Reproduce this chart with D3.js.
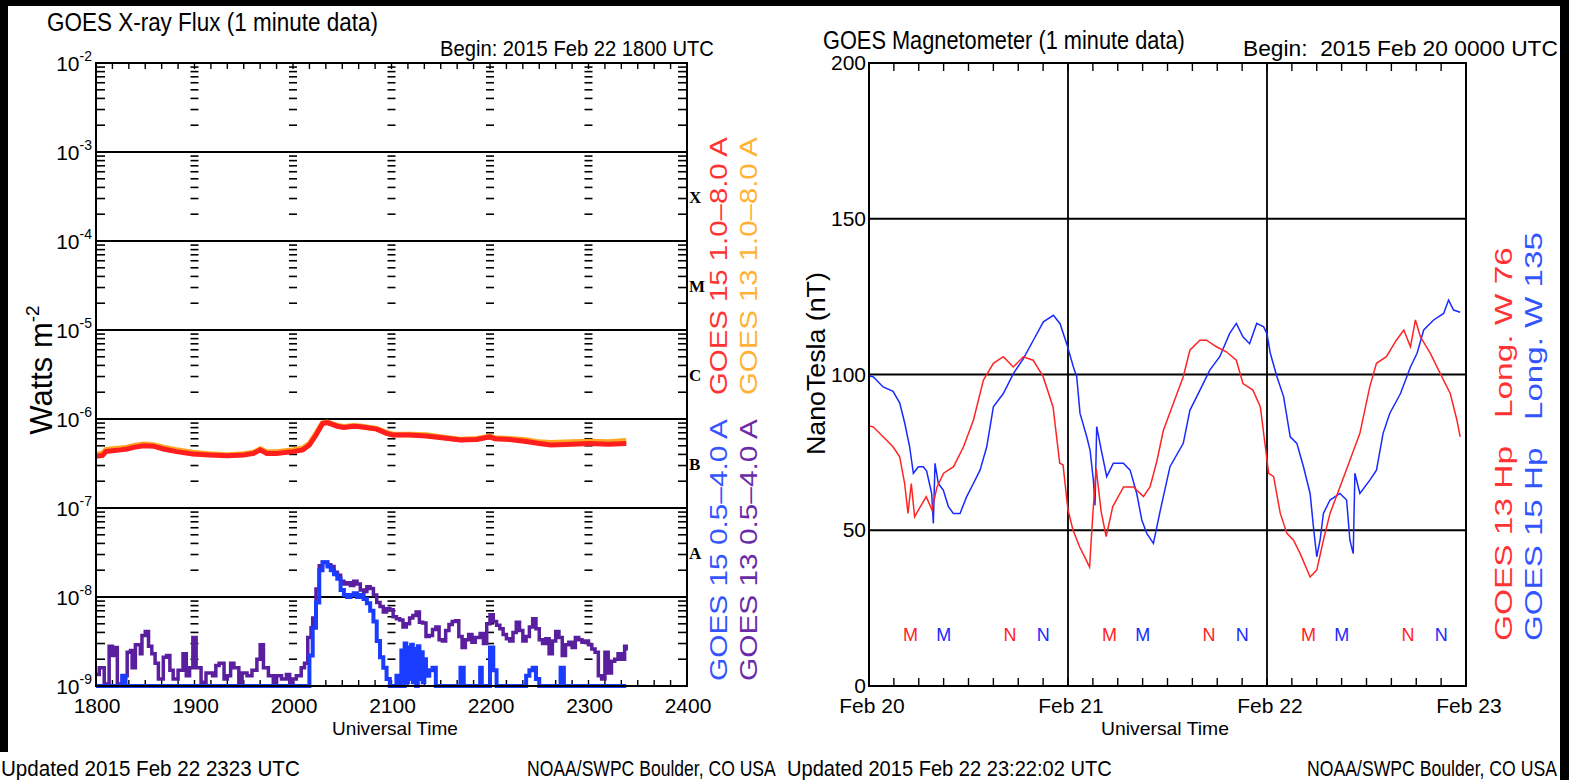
<!DOCTYPE html>
<html><head><meta charset="utf-8">
<script src="https://cdn.jsdelivr.net/npm/d3@7"></script>
<style>
html,body{margin:0;padding:0;background:#000;}
svg{display:block;}
</style></head><body>
<svg id="c" width="1569" height="780"></svg>
<script>
// ---------- GOES X-ray flux, minutes after 18:00 UT, W m^-2 ----------
const xrayHourLabels = ['1800','1900','2000','2100','2200','2300','2400'];
const xrayClassLetters = ['A','B','C','M','X'];
const xrayDecadeLabels = [-9,-8,-7,-6,-5,-4,-3,-2];

const longMinutes = [0,4,6,10,15,19,23,29,35,41,49,59,69,80,90,96,100,104,110,120,126,130,134,138,141,147,151,157,161,171,177,181,191,201,212,222,232,240,243,252,262,270,277,290,301,312,323];
const goes15Long = [3.8e-7,3.9e-7,4.3e-7,4.4e-7,4.5e-7,4.6e-7,4.8e-7,5.0e-7,4.95e-7,4.6e-7,4.3e-7,4.05e-7,3.95e-7,3.87e-7,3.95e-7,4.1e-7,4.5e-7,4.1e-7,4.1e-7,4.3e-7,4.5e-7,5.1e-7,6.6e-7,8.9e-7,9.1e-7,8.3e-7,8.05e-7,8.3e-7,8.2e-7,7.7e-7,6.9e-7,6.6e-7,6.6e-7,6.45e-7,6.1e-7,5.8e-7,5.9e-7,6.3e-7,6.0e-7,5.9e-7,5.6e-7,5.3e-7,5.1e-7,5.2e-7,5.3e-7,5.2e-7,5.3e-7];
const goes13Long = [4.0e-7,4.1e-7,4.5e-7,4.6e-7,4.7e-7,4.8e-7,5.0e-7,5.2e-7,5.1e-7,4.8e-7,4.5e-7,4.2e-7,4.05e-7,3.95e-7,4.05e-7,4.2e-7,4.6e-7,4.25e-7,4.25e-7,4.5e-7,4.7e-7,5.3e-7,6.8e-7,9.0e-7,9.2e-7,8.4e-7,8.2e-7,8.4e-7,8.3e-7,7.8e-7,7.0e-7,6.7e-7,6.7e-7,6.6e-7,6.2e-7,5.9e-7,6.0e-7,6.4e-7,6.1e-7,6.0e-7,5.8e-7,5.5e-7,5.4e-7,5.5e-7,5.6e-7,5.5e-7,5.7e-7];

const goes13ShortMinutes = [0,2,5,8,10,12,13,16,19,21,22,24,27,28,30,32,34,36,38,41,43,45,47,50,53,55,57,59,61,64,67,71,73,75,78,80,82,84,87,89,92,95,98,100,102,105,108,110,113,116,118,120,122,125,127,129,131,132,134,136,138,141,143,145,147,149,151,153,155,157,159,161,163,165,167,169,171,173,175,177,179,181,183,185,187,189,191,193,195,197,199,201,203,205,207,209,211,213,215,217,219,221,223,225,227,229,231,234,236,238,240,242,244,246,248,250,252,254,256,258,260,262,264,266,268,270,272,274,276,278,280,282,284,286,288,290,292,294,296,298,300,302,304,306,308,310,312,314,316,318,320,322,323];
const goes13Short = [1.35e-9,1.6e-9,1.05e-9,2.8e-9,2.2e-9,2.7e-9,1.05e-9,1.3e-9,2.4e-9,2.5e-9,1.6e-9,2.9e-9,2.3e-9,3.7e-9,4.1e-9,2.8e-9,2.3e-9,1.8e-9,1.2e-9,2.1e-9,2.2e-9,1.5e-9,1.2e-9,1.5e-9,2.3e-9,1.3e-9,1.6e-9,3.5e-9,1.6e-9,1.1e-9,1.4e-9,1.3e-9,1.7e-9,1.8e-9,1.2e-9,1.3e-9,1.8e-9,1.6e-9,1.1e-9,1.4e-9,1.3e-9,1.5e-9,2.0e-9,2.9e-9,1.6e-9,1.3e-9,1.1e-9,1.3e-9,1.2e-9,1.35e-9,1.1e-9,1.2e-9,1.3e-9,1.6e-9,1.8e-9,3.5e-9,4.5e-9,5.8e-9,1.23e-8,2.25e-8,2.45e-8,2.3e-8,2.2e-8,1.9e-8,1.75e-8,1.5e-8,1.4e-8,1.45e-8,1.35e-8,1.5e-8,1.4e-8,1.2e-8,1.15e-8,1.3e-8,1.25e-8,1.05e-8,8.7e-9,7.8e-9,6.8e-9,7.4e-9,7.2e-9,6.0e-9,5.7e-9,5.5e-9,4.6e-9,5.0e-9,5.8e-9,6.2e-9,6.8e-9,5.2e-9,5.1e-9,3.6e-9,3.7e-9,4.3e-9,4.6e-9,3.3e-9,3.2e-9,4.2e-9,4.9e-9,5.3e-9,5.4e-9,3.6e-9,2.7e-9,3.3e-9,3.8e-9,3.1e-9,3.5e-9,3.9e-9,3.0e-9,5.0e-9,6.3e-9,5.3e-9,4.8e-9,4.4e-9,3.8e-9,3.4e-9,3.2e-9,4.0e-9,5.2e-9,4.2e-9,3.2e-9,3.6e-9,4.6e-9,5.7e-9,4.4e-9,3.3e-9,3.0e-9,3.4e-9,2.3e-9,3.2e-9,4.1e-9,3.5e-9,2.2e-9,2.9e-9,3.1e-9,2.7e-9,3.5e-9,3.3e-9,3.1e-9,3.2e-9,2.9e-9,2.6e-9,2.4e-9,1.3e-9,1.2e-9,2.4e-9,1.4e-9,1.9e-9,2.0e-9,2.3e-9,2.0e-9,2.8e-9,2.5e-9];

const goes15ShortMinutes = [0,15,16,18,128,130,132,134,136,138,141,143,145,147,149,151,153,155,157,159,161,163,165,167,169,171,173,175,177,179,181,183,185,186,187,188,189,190,191,192,193,194,195,196,197,198,199,200,201,203,205,207,220,222,224,233,234,235,239,240,242,244,262,264,266,268,270,282,283,285,323];
const goes15Short = [1.0e-9,1.0e-9,1.3e-9,1.0e-9,1.0e-9,2.2e-9,4.5e-9,8.7e-9,2.0e-8,2.45e-8,2.2e-8,2.0e-8,1.8e-8,1.6e-8,1.2e-8,1.05e-8,1.0e-8,1.05e-8,1.1e-8,1.0e-8,1.05e-8,9.5e-9,8.5e-9,7.0e-9,5.3e-9,3.2e-9,2.1e-9,1.6e-9,1.2e-9,1.0e-9,1.0e-9,1.3e-9,1.0e-9,2.5e-9,1.0e-9,3.0e-9,1.1e-9,2.7e-9,1.2e-9,2.9e-9,1.1e-9,2.6e-9,1.0e-9,2.8e-9,1.2e-9,2.4e-9,1.1e-9,2.0e-9,1.3e-9,1.5e-9,1.6e-9,1.0e-9,1.0e-9,1.6e-9,1.0e-9,1.0e-9,1.6e-9,1.0e-9,1.0e-9,2.7e-9,1.5e-9,1.0e-9,1.3e-9,1.5e-9,1.6e-9,1.2e-9,1.0e-9,1.0e-9,1.6e-9,1.0e-9,1.0e-9];

// ---------- GOES magnetometer Hp, hours after Feb 20 00:00 UT, nT ----------
const magDayLabels = ['Feb 20','Feb 21','Feb 22','Feb 23'];
const magValueTicks = [0,50,100,150,200];

const goes13HpHours = [0,0.5,1.7,2.9,3.7,4.3,4.7,5.1,5.5,6.2,6.9,7.6,8.2,9.0,10.2,11.4,12.6,13.8,15.0,16.2,17.4,18.6,19.8,21.0,22.2,23.0,23.4,24.0,24.6,25.4,26.2,26.6,27.0,27.4,28.0,28.6,29.4,30.7,31.9,33.1,33.9,34.7,35.5,36.7,37.9,38.7,39.9,40.7,41.9,43.1,44.3,45.1,46.3,47.2,47.8,48.2,48.8,49.6,50.4,51.2,52.0,53.2,54.0,54.8,55.6,56.8,58.0,59.2,60.4,61.2,62.4,63.6,64.5,65.3,65.9,66.5,67.7,68.9,70.1,70.9,71.3];
const goes13Hp = [83.5,83.2,80,76.8,73.6,65,55.4,65,54.3,57.6,60.8,56.5,63.9,68.3,70.4,76.8,85.4,98.2,103.6,105.7,102.4,105.7,104.6,99.3,89.6,71.5,71,56.5,50.1,44.7,40.4,38.2,55.4,69.8,56,48,57.6,63.9,63.9,60.8,64,72,82,90.7,99.3,107.8,111,111,108.9,107.3,104.6,97.1,95,89.6,76.8,68.3,67.2,55.4,49,46.8,42.5,35,37.2,46.8,55.4,63.9,72.5,81.1,96.1,103.6,105.7,111,114.3,108.9,117.5,112.1,106.8,100.3,93.9,85.4,80];

const goes15HpHours = [0,0.5,1.7,2.9,3.7,4.3,4.9,5.35,5.95,6.55,6.95,7.56,7.76,7.96,8.36,8.96,9.57,10.17,10.98,11.78,12.59,13.39,14.2,15.0,16.2,17.41,18.62,19.82,21.03,22.24,23.04,23.84,24.65,25.05,25.45,26.26,26.66,27.06,27.26,27.46,28.07,28.67,29.47,30.68,31.49,32.29,32.9,33.5,34.3,35.1,36.3,37.9,38.7,39.9,41.1,42.3,43.5,44.3,45.1,45.9,46.76,47.6,48.0,48.4,49.2,50.0,50.8,51.6,52.4,53.2,53.6,54.0,54.4,54.8,55.6,56.8,57.6,58.0,58.4,58.6,59.2,60.4,61.2,62.0,62.8,64.1,65.3,66.1,66.9,68.1,69.3,69.9,70.5,71.3];
const goes15Hp = [99.5,99.3,96,94.6,90.9,84.5,76.8,68.3,70.4,70.4,69,61.8,52.2,71.5,65,62.9,57.6,55.4,55.4,60.8,65,69.3,76.8,89.6,93.9,100.3,105.1,111,116.9,119,116.3,109.9,102.4,99.3,87.5,80,75.7,66.1,58,83.3,75,67.2,71.5,71.5,69.3,61.8,53.3,49,45.8,56,70.4,77.9,88.5,94.9,101.4,105.7,113.2,116.4,112.1,109.9,116.4,115.3,113,106.8,99.3,92.9,80,77.9,70.4,61.8,51.1,41.5,46.8,55.4,59.7,61.8,59.7,46.8,42.5,68.3,61.8,66.1,69.3,81.1,87.5,93.9,102.4,106.8,114.3,117.5,119.6,123.9,120.7,120];

// local midnight (M) and noon (N) hours of each satellite
const goes13MarkHours = [5,17];
const goes15MarkHours = [9,21];
const markLetters = ['M','N'];

// ---------- drawing ----------
const FONT = '"Liberation Sans",sans-serif';
const SERIF = '"Liberation Serif","DejaVu Serif",serif';
const COL = {
  red:'#ff1e1e', orange:'#ffa722', blue:'#1a3cff', purple:'#5a1f9e',
  magRed:'#ff2424', magBlue:'#1a2aff',
  txtRed:'#ff3333', txtOrange:'#ffb233', txtBlue:'#3355ff', txtPurple:'#6a2ba8'
};

const svg = d3.select('#c');
svg.append('rect').attr('width',1569).attr('height',780).attr('fill','#000');
svg.append('rect').attr('x',8).attr('y',6).attr('width',1552).attr('height',774).attr('fill','#fff');
svg.append('rect').attr('x',0).attr('y',752).attr('width',1560).attr('height',28).attr('fill','#fff');

// text squeezed/stretched along its baseline to a target length
function fitText(g, x, y, rot, txt, size, fill, len, anchor){
  const t = g.append('text').text(txt)
    .attr('font-family',FONT).attr('font-size',size).attr('fill',fill)
    .style('white-space','pre');
  if (anchor) t.attr('text-anchor',anchor);
  let s = 1;
  if (len){ const w = t.node().getComputedTextLength(); if (w>0) s = len/w; }
  t.attr('transform',`translate(${x},${y}) rotate(${rot}) scale(${s},1)`);
  return t;
}
function label(g, x, y, txt, size, opts={}){
  const t = g.append('text').attr('x',x).attr('y',y).text(txt)
    .attr('font-family', opts.family || FONT).attr('font-size',size)
    .attr('fill', opts.fill || '#000');
  if (opts.anchor) t.attr('text-anchor', opts.anchor);
  if (opts.weight) t.attr('font-weight', opts.weight);
  return t;
}

// ===== Left panel: X-ray flux =====
const xX = d3.scaleLinear().domain([0,360]).range([96,687]);
const yX = d3.scaleLog().domain([1e-9,1e-2]).range([686,63]).clamp(true);
const gx = svg.append('g');

fitText(gx, 47, 31, 0, 'GOES X-ray Flux (1 minute data)', 25, '#000', 331);
fitText(gx, 440, 56, 0, 'Begin: 2015 Feb 22 1800 UTC', 22, '#000', 274);

// decade grid lines
for (let d=-8; d<=-3; d++){
  gx.append('line').attr('x1',xX(0)).attr('x2',xX(360))
    .attr('y1',yX(Math.pow(10,d))).attr('y2',yX(Math.pow(10,d)))
    .attr('stroke','#000').attr('stroke-width',2);
}
// minor log ticks: axes and dashed hour columns
const minorVals = [];
for (let d=-9; d<-2; d++) for (let k=2;k<=9;k++) minorVals.push(k*Math.pow(10,d));
minorVals.forEach(v=>{
  const y = yX(v);
  gx.append('line').attr('x1',xX(0)).attr('x2',xX(0)+9).attr('y1',y).attr('y2',y).attr('stroke','#000').attr('stroke-width',1.6);
  gx.append('line').attr('x1',xX(360)-9).attr('x2',xX(360)).attr('y1',y).attr('y2',y).attr('stroke','#000').attr('stroke-width',1.6);
  for (let h=1; h<=5; h++){
    const x = xX(h*60);
    gx.append('line').attr('x1',x-4).attr('x2',x+4).attr('y1',y).attr('y2',y).attr('stroke','#000').attr('stroke-width',1.6);
  }
});
// 10-minute ticks on top and bottom
d3.range(0,361,10).forEach(m=>{
  const x = xX(m);
  gx.append('line').attr('x1',x).attr('x2',x).attr('y1',686).attr('y2',680).attr('stroke','#000').attr('stroke-width',1.4);
  gx.append('line').attr('x1',x).attr('x2',x).attr('y1',63).attr('y2',69).attr('stroke','#000').attr('stroke-width',1.4);
});

// data
svg.append('clipPath').attr('id','clipX').append('rect')
  .attr('x',96).attr('y',63).attr('width',591).attr('height',625);
const gData = gx.append('g').attr('clip-path','url(#clipX)');
const lineX = d3.line().x(d=>xX(d[0])).y(d=>yX(d[1]));
const stepX = d3.line().x(d=>xX(d[0])).y(d=>yX(d[1])).curve(d3.curveStepAfter);
const zip = (a,b)=>a.map((v,i)=>[v,b[i]]);
gData.append('path').datum(zip(goes13ShortMinutes,goes13Short)).attr('d',stepX)
  .attr('fill','none').attr('stroke',COL.purple).attr('stroke-width',3.5);
gData.append('path').datum(zip(goes15ShortMinutes,goes15Short)).attr('d',stepX)
  .attr('fill','none').attr('stroke',COL.blue).attr('stroke-width',4);
gData.append('path').datum(zip(longMinutes,goes13Long)).attr('d',lineX)
  .attr('fill','none').attr('stroke',COL.orange).attr('stroke-width',5.5);
gData.append('path').datum(zip(longMinutes,goes15Long)).attr('d',lineX)
  .attr('fill','none').attr('stroke',COL.red).attr('stroke-width',5);

// frame
gx.append('rect').attr('x',96).attr('y',63).attr('width',591).attr('height',623)
  .attr('fill','none').attr('stroke','#000').attr('stroke-width',2);

// y labels
xrayDecadeLabels.forEach(d=>{
  const t = gx.append('text').attr('x',92).attr('y',yX(Math.pow(10,d))+8)
    .attr('text-anchor','end').attr('font-family',FONT).attr('font-size',21);
  t.append('tspan').text('10');
  t.append('tspan').text(String(d)).attr('font-size',14).attr('dy',-10);
});
// x labels
xrayHourLabels.forEach((s,i)=>{
  label(gx, xX(i*60)+1, 713, s, 21, {anchor:'middle'});
});
fitText(gx, 395, 735, 0, 'Universal Time', 19, '#000', 126, 'middle');
// y title
const wt = gx.append('text').attr('transform','translate(52,370) rotate(-90)')
  .attr('text-anchor','middle').attr('font-family',FONT).attr('font-size',31);
wt.append('tspan').text('Watts m');
wt.append('tspan').text('-2').attr('font-size',19).attr('dy',-13);

// flare class letters
xrayClassLetters.forEach((c,i)=>{
  label(gx, 689, yX(Math.pow(10,-7.5+i))+6, c, 17, {family:SERIF, weight:'bold'});
});
// channel legends
fitText(gx, 727, 395, -90, 'GOES 15 1.0\u20138.0 A', 23, COL.txtRed, 258);
fitText(gx, 757, 395, -90, 'GOES 13 1.0\u20138.0 A', 23, COL.txtOrange, 258);
fitText(gx, 727, 681, -90, 'GOES 15 0.5\u20134.0 A', 23, COL.txtBlue, 262);
fitText(gx, 757, 681, -90, 'GOES 13 0.5\u20134.0 A', 23, COL.txtPurple, 262);

fitText(gx, 1, 776, 0, 'Updated 2015 Feb 22 2323 UTC', 22, '#000', 299);
fitText(gx, 527, 776, 0, 'NOAA/SWPC Boulder, CO USA', 22, '#000', 249);

// ===== Right panel: magnetometer =====
const xM = d3.scaleLinear().domain([0,72]).range([869,1466]);
const yM = d3.scaleLinear().domain([0,200]).range([686,63]);
const gm = svg.append('g');

fitText(gm, 823, 49, 0, 'GOES Magnetometer (1 minute data)', 25, '#000', 362);
fitText(gm, 1243, 56, 0, 'Begin:  2015 Feb 20 0000 UTC', 22, '#000', 315);

[50,100,150].forEach(v=>{
  gm.append('line').attr('x1',xM(0)).attr('x2',xM(72)).attr('y1',yM(v)).attr('y2',yM(v))
    .attr('stroke','#000').attr('stroke-width',1.8);
});
[24,48].forEach(h=>{
  gm.append('line').attr('x1',xM(h)).attr('x2',xM(h)).attr('y1',yM(0)).attr('y2',yM(200))
    .attr('stroke','#000').attr('stroke-width',1.8);
});
d3.range(3,72,3).forEach(h=>{
  const x = xM(h);
  gm.append('line').attr('x1',x).attr('x2',x).attr('y1',686).attr('y2',678).attr('stroke','#000').attr('stroke-width',1.4);
  gm.append('line').attr('x1',x).attr('x2',x).attr('y1',63).attr('y2',71).attr('stroke','#000').attr('stroke-width',1.4);
});

const lineM = d3.line().x(d=>xM(d[0])).y(d=>yM(d[1]));
gm.append('path').datum(zip(goes15HpHours,goes15Hp)).attr('d',lineM)
  .attr('fill','none').attr('stroke',COL.magBlue).attr('stroke-width',1.5);
gm.append('path').datum(zip(goes13HpHours,goes13Hp)).attr('d',lineM)
  .attr('fill','none').attr('stroke',COL.magRed).attr('stroke-width',1.5);

gm.append('rect').attr('x',869).attr('y',63).attr('width',597).attr('height',623)
  .attr('fill','none').attr('stroke','#000').attr('stroke-width',2);

// M / N markers
[0,1,2].forEach(day=>{
  markLetters.forEach((L,i)=>{
    label(gm, xM(day*24+goes13MarkHours[i]), yM(14.5), L, 18, {anchor:'middle', fill:COL.magRed});
    label(gm, xM(day*24+goes15MarkHours[i]), yM(14.5), L, 18, {anchor:'middle', fill:COL.magBlue});
  });
});

magValueTicks.forEach(v=>{
  label(gm, 866, yM(v)+7, String(v), 21, {anchor:'end'});
});
magDayLabels.forEach((s,i)=>{
  label(gm, xM(i*24)+3, 713, s, 21, {anchor:'middle'});
});
fitText(gm, 1165, 735, 0, 'Universal Time', 19, '#000', 128, 'middle');
fitText(gm, 825, 455, -90, 'NanoTesla (nT)', 25, '#000', 183);

fitText(gm, 1512, 641, -90, 'GOES 13 Hp   Long. W 76', 23, COL.txtRed, 394);
fitText(gm, 1542, 641, -90, 'GOES 15 Hp   Long. W 135', 23, COL.txtBlue, 409);

fitText(gm, 787, 776, 0, 'Updated 2015 Feb 22 23:22:02 UTC', 22, '#000', 325);
fitText(gm, 1307, 776, 0, 'NOAA/SWPC Boulder, CO USA', 22, '#000', 250);

// right black edge
svg.append('rect').attr('x',1560).attr('y',0).attr('width',9).attr('height',780).attr('fill','#000');
</script>
</body></html>
